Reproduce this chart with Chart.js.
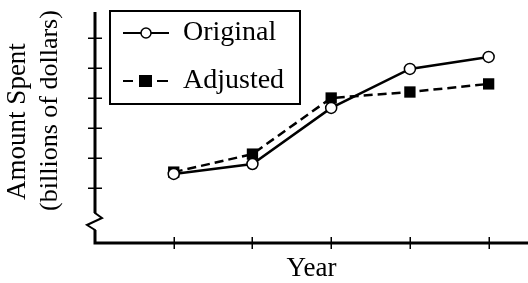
<!DOCTYPE html>
<html>
<head>
<meta charset="utf-8">
<script src="https://cdn.jsdelivr.net/npm/chart.js@4.4.0/dist/chart.umd.min.js"></script>
<style>
  html, body { margin: 0; padding: 0; background: #fff; }
</style>
</head>
<body>
<canvas id="chart" width="528" height="283"></canvas>
<script>
// values, in tick units (the axes carry no numbers)
const periods = [1, 2, 3, 4, 5];
const original = [1.47, 1.8, 3.67, 4.97, 5.37];
const adjusted = [1.53, 2.13, 4.0, 4.2, 4.47];
const yTicks = [1, 2, 3, 4, 5, 6];
const seriesNames = ['Original', 'Adjusted'];
const yTitle = ['Amount Spent', '(billions of dollars)'];
const xTitle = 'Year';

const SERIF = '"Liberation Serif", "Times New Roman", serif';

// legend swatch: line + marker, painted into a small canvas
function sample(kind) {
  const c = document.createElement('canvas');
  c.width = 46;
  c.height = 16;
  const g = c.getContext('2d');
  g.fillStyle = '#000';
  g.strokeStyle = '#000';
  if (kind === 'circle') {
    g.fillRect(0, 7, 46, 2);
    g.beginPath();
    g.arc(23, 8, 5, 0, Math.PI * 2);
    g.fillStyle = '#fff';
    g.fill();
    g.lineWidth = 1.5;
    g.stroke();
  } else {
    g.fillRect(0, 7, 10, 2);
    g.fillRect(16, 2, 13, 12);
    g.fillRect(34, 7, 11, 2);
  }
  return c;
}
const swatches = [sample('circle'), sample('rect')];

const framePlugin = {
  id: 'frame',
  afterLayout(chart) {
    // move the legend a bit so it sits like the original
    const lg = chart.legend, a = chart.chartArea;
    lg.left = a.left + 8;
    lg.right = lg.left + lg.width;
    lg.top = a.top - 13;
    lg.bottom = lg.top + lg.height;
  },
  beforeDatasetsDraw(chart) {
    const { ctx, chartArea: a, scales: { x, y } } = chart;
    ctx.save();
    ctx.strokeStyle = '#000';
    ctx.lineCap = 'butt';

    // y axis, with the break near the bottom
    ctx.lineWidth = 3;
    ctx.beginPath();
    ctx.moveTo(a.left, a.top);
    ctx.lineTo(a.left, a.bottom - 30);
    ctx.stroke();
    ctx.lineWidth = 2;
    ctx.beginPath();
    ctx.moveTo(a.left, a.bottom - 31);
    ctx.lineTo(a.left, a.bottom - 30);
    ctx.lineTo(a.left + 7, a.bottom - 25);
    ctx.lineTo(a.left - 8, a.bottom - 18);
    ctx.lineTo(a.left, a.bottom - 13);
    ctx.lineTo(a.left, a.bottom - 12);
    ctx.stroke();
    ctx.lineWidth = 3;
    ctx.beginPath();
    ctx.moveTo(a.left, a.bottom - 13);
    ctx.lineTo(a.left, a.bottom);
    ctx.lineTo(a.right, a.bottom);
    ctx.stroke();

    // ticks cross the axes
    ctx.lineWidth = 1.5;
    ctx.beginPath();
    y.ticks.forEach(t => {
      const py = Math.round(y.getPixelForValue(t.value)) + 0.25;
      ctx.moveTo(a.left - 7, py);
      ctx.lineTo(a.left + 7, py);
    });
    x.ticks.forEach(t => {
      const px = Math.round(x.getPixelForValue(t.value)) + 0.25;
      ctx.moveTo(px, a.bottom - 6);
      ctx.lineTo(px, a.bottom + 6);
    });
    ctx.stroke();

    // legend frame
    ctx.lineWidth = 2;
    ctx.strokeRect(a.left + 15, a.top - 1, 190, 93);

    // y title, two rotated lines
    ctx.fillStyle = '#000';
    ctx.textAlign = 'center';
    ctx.textBaseline = 'alphabetic';
    [[25, 121.5, 27], [57, 110.5, 26]].forEach(([bx, cy, size], i) => {
      ctx.save();
      ctx.font = size + 'px ' + SERIF;
      ctx.translate(bx, cy);
      ctx.rotate(-Math.PI / 2);
      ctx.fillText(yTitle[i], 0, 0);
      ctx.restore();
    });
    ctx.restore();
  }
};

new Chart(document.getElementById('chart'), {
  type: 'line',
  data: {
    datasets: [
      {
        label: seriesNames[0],
        data: periods.map((p, i) => ({ x: p, y: original[i] })),
        borderColor: '#000',
        borderWidth: 2.5,
        pointStyle: 'circle',
        pointRadius: 5.5,
        pointBackgroundColor: '#fff',
        pointBorderColor: '#000',
        pointBorderWidth: 1.5,
        tension: 0
      },
      {
        label: seriesNames[1],
        data: periods.map((p, i) => ({ x: p, y: adjusted[i] })),
        borderColor: '#000',
        borderWidth: 2.5,
        borderDash: [9, 5],
        pointStyle: 'rect',
        pointRadius: 8,
        pointBackgroundColor: '#000',
        pointBorderColor: '#000',
        pointBorderWidth: 0,
        tension: 0
      }
    ]
  },
  options: {
    responsive: false,
    animation: false,
    devicePixelRatio: 1,
    layout: { autoPadding: false, padding: { top: 12, left: 0, right: 0, bottom: 0 } },
    scales: {
      x: {
        type: 'linear',
        min: 0,
        max: 5.5,
        grid: { display: false },
        border: { display: false },
        ticks: { display: false },
        afterBuildTicks: s => { s.ticks = periods.map(v => ({ value: v })); },
        afterFit: s => { s.height = 40; },
        title: {
          display: true,
          text: xTitle,
          color: '#000',
          font: { family: SERIF, size: 27, lineHeight: 1 },
          padding: { top: 0, bottom: 0.5 }
        }
      },
      y: {
        type: 'linear',
        min: -0.833,
        max: 6.867,
        grid: { display: false },
        border: { display: false },
        ticks: { display: false },
        afterBuildTicks: s => { s.ticks = yTicks.map(v => ({ value: v })); },
        afterFit: s => { s.width = 95; }
      }
    },
    plugins: {
      tooltip: { enabled: false },
      legend: {
        position: 'chartArea',
        align: 'start',
        onClick: null,
        labels: {
          usePointStyle: true,
          pointStyleWidth: 46,
          padding: 20,
          color: '#000',
          font: { family: SERIF, size: 28 },
          generateLabels: () => seriesNames.map((name, i) => ({
            text: name,
            pointStyle: swatches[i],
            fillStyle: '#000',
            strokeStyle: '#000',
            lineWidth: 0,
            hidden: false,
            datasetIndex: i,
            fontColor: '#000'
          }))
        }
      }
    }
  },
  plugins: [framePlugin]
});
</script>
</body>
</html>
